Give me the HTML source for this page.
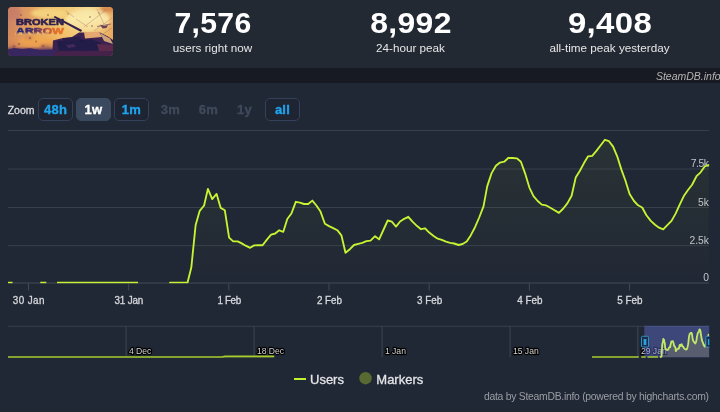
<!DOCTYPE html>
<html lang="en">
<head>
<meta charset="utf-8">
<title>Broken Arrow - SteamDB</title>
<style>
html,body{margin:0;padding:0;}
body{width:720px;height:412px;overflow:hidden;background:#212835;font-family:"Liberation Sans",sans-serif;position:relative;}
#hdr{position:absolute;left:0;top:0;width:720px;height:68px;background:#222933;}
#thumb{position:absolute;left:8px;top:7px;width:105px;height:49px;border-radius:4px;overflow:hidden;}
.stat{position:absolute;top:0;width:198px;text-align:center;color:#fff;}
.stat b{display:block;position:absolute;left:0;width:100%;top:6px;font-size:29px;line-height:34px;font-weight:700;letter-spacing:0.3px;}
.stat span{display:block;position:absolute;left:0;width:100%;top:40.3px;font-size:11.7px;line-height:16px;color:#e6e6e6;}
#band{position:absolute;left:0;top:68px;width:720px;height:15px;background:#171a22;}
#band i{position:absolute;right:-0.7px;top:0.5px;font-size:10.5px;line-height:15px;color:#b4b4b4;font-style:italic;white-space:nowrap;}
#zoom{position:absolute;left:0;top:98px;height:22px;}
#zoom span,#zoom a{position:absolute;top:0;height:20.5px;line-height:22px;font-size:13px;font-weight:700;text-align:center;box-sizing:content-box;}
#zoom .lbl{left:7.7px;font-size:10.5px;font-weight:400;color:#dcdde0;line-height:24px;-webkit-text-stroke:0.3px #dcdde0;}
#zoom a{width:33px;border:1px solid #33415a;border-radius:5px;color:#1fa4ee;background:#1e2431;-webkit-text-stroke:0.35px currentColor;letter-spacing:0.25px;}
#zoom a.sel{background:#3b495f;border-color:#3b495f;color:#fff;}
#zoom a.dis{border-color:transparent;background:transparent;color:#3f4a5b;}
#chart{position:absolute;left:0;top:0;width:720px;height:412px;}
#chart text{font-family:"Liberation Sans",sans-serif;}
</style>
</head>
<body>
<div id="hdr">
  <div id="thumb">
    <svg width="105" height="49" viewBox="0 0 105 49">
      <defs>
        <linearGradient id="sky" x1="0" y1="0" x2="1" y2="0">
          <stop offset="0" stop-color="#cc8268"/>
          <stop offset="0.22" stop-color="#e3a262"/>
          <stop offset="0.5" stop-color="#f3cb74"/>
          <stop offset="0.78" stop-color="#f8e39a"/>
          <stop offset="1" stop-color="#e8ae66"/>
        </linearGradient>
        <linearGradient id="gnd" x1="0" y1="0" x2="0" y2="1">
          <stop offset="0" stop-color="#d08040" stop-opacity="0.1"/>
          <stop offset="0.25" stop-color="#e09040" stop-opacity="0"/>
          <stop offset="0.62" stop-color="#ee9a40" stop-opacity="0.3"/>
          <stop offset="0.8" stop-color="#e08a44" stop-opacity="0.45"/>
          <stop offset="0.86" stop-color="#6a3860" stop-opacity="0.85"/>
          <stop offset="0.92" stop-color="#3a2660" stop-opacity="1"/>
          <stop offset="1" stop-color="#2e2150"/>
        </linearGradient>
        <linearGradient id="arw" x1="0" y1="0" x2="1" y2="0">
          <stop offset="0" stop-color="#1e2878"/>
          <stop offset="0.3" stop-color="#3a2a6a"/>
          <stop offset="0.55" stop-color="#8a4058"/>
          <stop offset="0.75" stop-color="#dc6a2c"/>
          <stop offset="1" stop-color="#e8782a"/>
        </linearGradient>
        <filter id="bl" x="-30%" y="-30%" width="160%" height="160%"><feGaussianBlur stdDeviation="1.6"/></filter>
        <filter id="bl2" x="-20%" y="-20%" width="140%" height="140%"><feGaussianBlur stdDeviation="0.6"/></filter>
      </defs>
      <rect width="105" height="49" fill="url(#sky)"/>
      <g transform="translate(-8,-7)">
      <g filter="url(#bl)">
        <ellipse cx="88" cy="20" rx="22" ry="11" fill="#fbeeb0" opacity="0.8"/>
        <ellipse cx="48" cy="13" rx="17" ry="5" fill="#f8da84" opacity="0.85"/>
        <ellipse cx="13" cy="13" rx="8" ry="7" fill="#c47a6a" opacity="0.7"/>
        <ellipse cx="108" cy="9" rx="8" ry="3.5" fill="#d8884c" opacity="0.9"/>
        <ellipse cx="38" cy="42" rx="20" ry="5" fill="#f4ae54" opacity="0.8"/>
        <ellipse cx="13" cy="47" rx="5" ry="2" fill="#8a4a60" opacity="0.6"/>
        <ellipse cx="46" cy="47" rx="7" ry="2.5" fill="#7a4468" opacity="0.75"/>
        <ellipse cx="23" cy="21" rx="5" ry="2" fill="#b87060" opacity="0.5"/>
        <ellipse cx="29" cy="38" rx="4" ry="1.6" fill="#a86058" opacity="0.55"/>
        <ellipse cx="12" cy="32" rx="3" ry="5" fill="#d08a58" opacity="0.5"/>
      </g>
      <rect x="8" y="7" width="105" height="49" fill="url(#gnd)"/>
      <g stroke="#9a6250" stroke-width="0.55" opacity="0.6" fill="none">
        <path d="M106 10 L84 27 M112 18 L94 31 M97 9 L104 24 M66 11 L74 17 M112 28 L100 36 M76 19 L88 27"/>
      </g>
      <g fill="#8a5248" opacity="0.6" filter="url(#bl2)">
        <circle cx="21" cy="15" r="1.1"/><circle cx="25" cy="21.5" r="0.9"/><circle cx="48" cy="15" r="1"/>
        <circle cx="30" cy="38" r="1.2"/><circle cx="36" cy="41.5" r="1"/><circle cx="19" cy="44" r="1.2"/>
        <circle cx="68" cy="14" r="0.8"/><circle cx="90" cy="17" r="0.9"/><circle cx="99" cy="13" r="0.8"/>
        <circle cx="43" cy="46" r="1.6"/><circle cx="14" cy="46.5" r="1.5"/><circle cx="92" cy="26" r="0.9"/>
      </g>
      <g filter="url(#bl2)">
        <path d="M100 24.5 L104 26 L108 25 L106.5 28 L102.5 28.5 Z" fill="#6a4258"/>
        <path d="M97 26.5 L111 24" stroke="#6a4258" stroke-width="0.7"/>
        <path d="M53.5 17.3 L55 16 L82 30 L81 32 Z" fill="#33204c"/>
        <path d="M53 40.5 L61 38.5 L72 37 L79 32.5 L100 32.5 L108 36.5 L113 40 L113 56 L52 56 Z" fill="#3a2250"/>
        <path d="M84 32 L99 31.8 L102 37 L85 38.5 Z" fill="#e4a870"/>
        <path d="M100 33 L110 38.5 L113 44 L104 41 Z" fill="#deb07c" opacity="0.9"/>
        <path d="M57 41 L92 39.5 L101 43 L99 50.5 L59 50.5 Z" fill="#211a48"/>
        <path d="M62 38 L80 37 L83 40 L64 41 Z" fill="#2a1e4a"/>
        <path d="M8 49.5 L14 48 L22 49 L30 48.3 L40 50 L56 49.5 L56 56 L8 56 Z" fill="#38265e"/>
        <path d="M54 52 L113 50.5 L113 56 L54 56 Z" fill="#45204a"/>
        <path d="M97 44 L113 45 L113 51 L99 51 Z" fill="#5c2c4e"/>
        <path d="M66 45 L74 44 L76 47 L68 48 Z" fill="#4a3060" opacity="0.8"/>
      </g>
      <g font-family="Liberation Sans, sans-serif" font-weight="700" font-size="8.7" stroke-width="0.55" stroke-linejoin="round">
        <text x="16" y="25.4" fill="#2c2050" stroke="#2c2050" textLength="48" lengthAdjust="spacingAndGlyphs">BROKEN</text>
        <text x="16" y="34" fill="url(#arw)" stroke="url(#arw)" textLength="48" lengthAdjust="spacingAndGlyphs">ARROW</text>
      </g>
      <rect x="15" y="32.6" width="34" height="2.2" fill="#f0b86a" opacity="0.6" filter="url(#bl2)"/>
      </g>
    </svg>
  </div>
  <div class="stat" style="left:113.5px"><b style="transform:scaleX(1.04)">7,576</b><span>users right now</span></div>
  <div class="stat" style="left:311.5px"><b style="transform:scaleX(1.10)">8,992</b><span>24-hour peak</span></div>
  <div class="stat" style="left:510.5px"><b style="transform:scaleX(1.135)">9,408</b><span>all-time peak yesterday</span></div>
</div>
<div id="band"><i>SteamDB.info</i></div>

<svg id="chart" width="720" height="412" viewBox="0 0 720 412">
  <defs>
    <linearGradient id="fillg" x1="0" y1="130" x2="0" y2="283" gradientUnits="userSpaceOnUse">
      <stop offset="0" stop-color="#b5e02a" stop-opacity="0.06"/>
      <stop offset="1" stop-color="#b5e02a" stop-opacity="0"/>
    </linearGradient>
    <clipPath id="plotclip"><rect x="8" y="120" width="701.5" height="163.15"/></clipPath>
    <clipPath id="navclip"><rect x="8" y="325" width="701.3" height="32.8"/></clipPath>
  </defs>
  <!-- grid lines -->
  <g stroke="#383f4c" stroke-width="1">
    <line x1="8" x2="709" y1="130.5" y2="130.5"/>
    <line x1="8" x2="709" y1="169" y2="169"/>
    <line x1="8" x2="709" y1="207.5" y2="207.5"/>
    <line x1="8" x2="709" y1="245.6" y2="245.6"/>
    <line x1="8" x2="709" y1="283" y2="283" stroke-width="1.4"/>
  </g>
  <!-- ticks -->
  <g stroke="#404755" stroke-width="1">
    <line x1="28.50" x2="28.50" y1="283" y2="290.5"/>
    <line x1="128.67" x2="128.67" y1="283" y2="290.5"/>
    <line x1="228.84" x2="228.84" y1="283" y2="290.5"/>
    <line x1="329.01" x2="329.01" y1="283" y2="290.5"/>
    <line x1="429.18" x2="429.18" y1="283" y2="290.5"/>
    <line x1="529.35" x2="529.35" y1="283" y2="290.5"/>
    <line x1="629.52" x2="629.52" y1="283" y2="290.5"/>
  </g>
  <!-- y labels -->
  <g font-size="10.3" fill="#c2c5cb" text-anchor="end">
    <text x="709" y="167.4" textLength="18.3" lengthAdjust="spacing">7.5k</text>
    <text x="709" y="205.9">5k</text>
    <text x="709" y="244.1">2.5k</text>
    <text x="709" y="281.4">0</text>
  </g>
  <!-- series -->
  <g clip-path="url(#plotclip)">
  <path d="M170.0 282.7 L187.5 282.7 L191.3 267.6 L195.6 225.3 L199.7 210.8 L204.1 205.5 L207.9 188.9 L212.2 199.1 L216.6 193.9 L220.7 207.9 L224.8 210.2 L229.1 237.6 L233.2 241.4 L237.6 241.4 L241.7 243.4 L245.7 245.7 L250.1 247.8 L254.2 245.4 L258.3 245.2 L262.6 245.2 L266.7 239.9 L271.1 234.7 L275.2 233.5 L279.2 230.3 L283.3 231.8 L287.3 219.0 L291.4 213.5 L295.8 201.8 L299.9 202.6 L304.0 204.0 L308.2 204.0 L312.3 200.6 L316.4 205.5 L320.5 211.6 L324.9 223.7 L329.0 226.1 L333.2 228.1 L337.3 230.2 L341.4 235.3 L345.5 252.8 L349.9 249.2 L354.0 245.0 L358.2 243.8 L362.3 242.9 L366.4 241.2 L370.5 240.7 L375.1 236.2 L379.1 239.4 L383.6 229.5 L387.7 220.5 L391.8 221.7 L396.0 226.6 L400.1 221.5 L404.2 218.8 L408.3 216.8 L412.5 221.7 L416.8 225.8 L421.0 229.2 L425.1 228.3 L429.2 232.6 L433.6 236.0 L437.7 238.7 L441.8 239.9 L446.0 241.6 L450.1 242.8 L454.2 243.5 L458.6 245.0 L462.6 244.0 L466.7 241.5 L470.7 235.4 L475.0 227.2 L479.2 217.5 L483.5 206.3 L487.2 186.4 L491.6 173.1 L495.9 165.8 L500.0 162.6 L504.2 161.7 L508.5 157.8 L512.7 158.0 L516.8 158.3 L520.9 161.7 L525.0 173.1 L529.4 187.6 L533.5 196.1 L537.7 201.0 L541.8 204.6 L545.9 205.3 L550.3 207.8 L554.6 210.2 L558.9 212.9 L563.3 208.5 L567.5 203.1 L571.6 195.8 L575.7 177.6 L579.9 170.8 L584.0 163.1 L588.1 156.3 L592.2 155.8 L596.4 150.9 L600.7 145.3 L604.9 139.8 L609.0 141.2 L613.1 146.6 L617.2 156.3 L621.4 169.6 L625.4 180.5 L629.6 194.0 L634.0 201.0 L638.1 205.3 L642.2 207.5 L646.4 215.3 L650.8 220.9 L655.0 224.8 L659.1 227.7 L663.2 229.4 L667.3 225.2 L671.5 220.9 L675.6 213.6 L679.7 204.6 L683.8 196.1 L688.0 190.0 L692.1 184.7 L696.5 176.2 L700.6 172.3 L704.7 166.5 L708.6 165.0 L708.6 282.7 L170.0 282.7 Z" fill="url(#fillg)" stroke="none"/>
  <g fill="none" stroke="#c5f432" stroke-width="1.85" stroke-linejoin="round" stroke-linecap="butt">
    <path d="M8 282.7 L12.5 282.7"/>
    <path d="M40.3 282.7 L46.3 282.7"/>
    <path d="M57 282.7 L138 282.7"/>
    <path d="M170.0 282.7 L187.5 282.7 L191.3 267.6 L195.6 225.3 L199.7 210.8 L204.1 205.5 L207.9 188.9 L212.2 199.1 L216.6 193.9 L220.7 207.9 L224.8 210.2 L229.1 237.6 L233.2 241.4 L237.6 241.4 L241.7 243.4 L245.7 245.7 L250.1 247.8 L254.2 245.4 L258.3 245.2 L262.6 245.2 L266.7 239.9 L271.1 234.7 L275.2 233.5 L279.2 230.3 L283.3 231.8 L287.3 219.0 L291.4 213.5 L295.8 201.8 L299.9 202.6 L304.0 204.0 L308.2 204.0 L312.3 200.6 L316.4 205.5 L320.5 211.6 L324.9 223.7 L329.0 226.1 L333.2 228.1 L337.3 230.2 L341.4 235.3 L345.5 252.8 L349.9 249.2 L354.0 245.0 L358.2 243.8 L362.3 242.9 L366.4 241.2 L370.5 240.7 L375.1 236.2 L379.1 239.4 L383.6 229.5 L387.7 220.5 L391.8 221.7 L396.0 226.6 L400.1 221.5 L404.2 218.8 L408.3 216.8 L412.5 221.7 L416.8 225.8 L421.0 229.2 L425.1 228.3 L429.2 232.6 L433.6 236.0 L437.7 238.7 L441.8 239.9 L446.0 241.6 L450.1 242.8 L454.2 243.5 L458.6 245.0 L462.6 244.0 L466.7 241.5 L470.7 235.4 L475.0 227.2 L479.2 217.5 L483.5 206.3 L487.2 186.4 L491.6 173.1 L495.9 165.8 L500.0 162.6 L504.2 161.7 L508.5 157.8 L512.7 158.0 L516.8 158.3 L520.9 161.7 L525.0 173.1 L529.4 187.6 L533.5 196.1 L537.7 201.0 L541.8 204.6 L545.9 205.3 L550.3 207.8 L554.6 210.2 L558.9 212.9 L563.3 208.5 L567.5 203.1 L571.6 195.8 L575.7 177.6 L579.9 170.8 L584.0 163.1 L588.1 156.3 L592.2 155.8 L596.4 150.9 L600.7 145.3 L604.9 139.8 L609.0 141.2 L613.1 146.6 L617.2 156.3 L621.4 169.6 L625.4 180.5 L629.6 194.0 L634.0 201.0 L638.1 205.3 L642.2 207.5 L646.4 215.3 L650.8 220.9 L655.0 224.8 L659.1 227.7 L663.2 229.4 L667.3 225.2 L671.5 220.9 L675.6 213.6 L679.7 204.6 L683.8 196.1 L688.0 190.0 L692.1 184.7 L696.5 176.2 L700.6 172.3 L704.7 166.5 L708.6 165.0" stroke-linecap="round"/>
  </g>
  </g>
  <!-- x labels -->
  <g font-size="9.9" fill="#d6d8dc" stroke="#d6d8dc" stroke-width="0.3" text-anchor="middle" transform="scale(1,1.03)">
    <text x="28.6" y="294.71" textLength="31.6" lengthAdjust="spacing">30 Jan</text>
    <text x="128.9" y="294.71" textLength="28.7" lengthAdjust="spacing">31 Jan</text>
    <text x="229.3" y="294.71" textLength="23.7" lengthAdjust="spacing">1 Feb</text>
    <text x="329.5" y="294.71" textLength="25.2" lengthAdjust="spacing">2 Feb</text>
    <text x="429.7" y="294.71" textLength="25.2" lengthAdjust="spacing">3 Feb</text>
    <text x="529.9" y="294.71" textLength="25.2" lengthAdjust="spacing">4 Feb</text>
    <text x="629.9" y="294.71" textLength="25.2" lengthAdjust="spacing">5 Feb</text>
  </g>
  <!-- navigator -->
  <g stroke="#383f4c" stroke-width="1">
    <line x1="8" x2="709" y1="326.3" y2="326.3"/>
    <line x1="126.1" x2="126.1" y1="326" y2="357" stroke-width="1.3"/>
    <line x1="254.1" x2="254.1" y1="326" y2="357" stroke-width="1.3"/>
    <line x1="382.1" x2="382.1" y1="326" y2="357" stroke-width="1.3"/>
    <line x1="510.1" x2="510.1" y1="326" y2="357" stroke-width="1.3"/>
    <line x1="637.8" x2="637.8" y1="326" y2="357" stroke-width="1.4"/>
  </g>
  <g clip-path="url(#navclip)">
    <path d="M659.8 357.0 L661.4 357.0 L661.7 354.1 L662.1 345.9 L662.5 343.1 L662.9 342.0 L663.3 338.8 L663.7 340.8 L664.1 339.8 L664.4 342.5 L664.8 342.9 L665.2 348.3 L665.6 349.0 L666.0 349.0 L666.4 349.4 L666.7 349.8 L667.1 350.2 L667.5 349.8 L667.9 349.7 L668.3 349.7 L668.6 348.7 L669.0 347.7 L669.4 347.5 L669.8 346.8 L670.2 347.1 L670.5 344.6 L670.9 343.6 L671.3 341.3 L671.7 341.5 L672.0 341.7 L672.4 341.7 L672.8 341.1 L673.2 342.0 L673.6 343.2 L674.0 345.6 L674.3 346.0 L674.7 346.4 L675.1 346.8 L675.5 347.8 L675.8 351.2 L676.2 350.5 L676.6 349.7 L677.0 349.5 L677.4 349.3 L677.7 348.9 L678.1 348.9 L678.5 348.0 L678.9 348.6 L679.3 346.7 L679.7 344.9 L680.1 345.2 L680.4 346.1 L680.8 345.1 L681.2 344.6 L681.6 344.2 L682.0 345.2 L682.3 346.0 L682.7 346.6 L683.1 346.4 L683.5 347.3 L683.9 347.9 L684.3 348.5 L684.6 348.7 L685.0 349.0 L685.4 349.3 L685.8 349.4 L686.2 349.7 L686.5 349.5 L686.9 349.0 L687.3 347.8 L687.7 346.2 L688.1 344.4 L688.4 342.2 L688.8 338.3 L689.2 335.7 L689.6 334.3 L690.0 333.7 L690.3 333.5 L690.7 332.8 L691.1 332.8 L691.5 332.9 L691.9 333.5 L692.2 335.7 L692.6 338.6 L693.0 340.2 L693.4 341.2 L693.8 341.8 L694.1 342.0 L694.5 342.5 L694.9 342.9 L695.3 343.5 L695.7 342.6 L696.1 341.6 L696.5 340.1 L696.9 336.6 L697.3 335.3 L697.6 333.8 L698.0 332.5 L698.4 332.4 L698.8 331.4 L699.2 330.3 L699.5 329.3 L699.9 329.5 L700.3 330.6 L700.7 332.5 L701.0 335.1 L701.4 337.2 L701.8 339.8 L702.2 341.2 L702.6 342.0 L702.9 342.4 L703.3 343.9 L703.7 345.0 L704.1 345.8 L704.5 346.3 L704.9 346.7 L705.2 345.8 L705.6 345.0 L706.0 343.6 L706.4 341.8 L706.7 340.2 L707.1 339.0 L707.5 338.0 L707.9 336.3 L708.3 335.6 L708.7 334.5 L709.0 334.2 L709.0 357 L659.8 357 Z" fill="#4e5025"/>
  </g>
  <g font-size="8.6" font-weight="400" fill="#d0d0d0" stroke="#000" stroke-width="2.4" stroke-linejoin="round" paint-order="stroke">
    <text x="128.9" y="354.1">4 Dec</text>
    <text x="256.9" y="354.1">18 Dec</text>
    <text x="384.9" y="354.1">1 Jan</text>
    <text x="512.9" y="354.1">15 Jan</text>
    <text x="640.9" y="354.1">29 Jan</text>
  </g>
  <rect x="644.3" y="325.8" width="64.9" height="31.6" fill="#6673d8" fill-opacity="0.42"/>
  <g clip-path="url(#navclip)">
    <g fill="none" stroke="#a6cc2e" stroke-width="1.8" stroke-linejoin="round">
      <path d="M8 357.1 L222 357.1 L225 356.5 L273.5 356.5" stroke-linecap="round"/>
      <path d="M592 357.1 L638.8 357.1 M641.2 357.1 L645.6 357.1 M647.5 357.1 L658 357.1"/>
      <path d="M659.8 357.0 L661.4 357.0 L661.7 354.1 L662.1 345.9 L662.5 343.1 L662.9 342.0 L663.3 338.8 L663.7 340.8 L664.1 339.8 L664.4 342.5 L664.8 342.9 L665.2 348.3 L665.6 349.0 L666.0 349.0 L666.4 349.4 L666.7 349.8 L667.1 350.2 L667.5 349.8 L667.9 349.7 L668.3 349.7 L668.6 348.7 L669.0 347.7 L669.4 347.5 L669.8 346.8 L670.2 347.1 L670.5 344.6 L670.9 343.6 L671.3 341.3 L671.7 341.5 L672.0 341.7 L672.4 341.7 L672.8 341.1 L673.2 342.0 L673.6 343.2 L674.0 345.6 L674.3 346.0 L674.7 346.4 L675.1 346.8 L675.5 347.8 L675.8 351.2 L676.2 350.5 L676.6 349.7 L677.0 349.5 L677.4 349.3 L677.7 348.9 L678.1 348.9 L678.5 348.0 L678.9 348.6 L679.3 346.7 L679.7 344.9 L680.1 345.2 L680.4 346.1 L680.8 345.1 L681.2 344.6 L681.6 344.2 L682.0 345.2 L682.3 346.0 L682.7 346.6 L683.1 346.4 L683.5 347.3 L683.9 347.9 L684.3 348.5 L684.6 348.7 L685.0 349.0 L685.4 349.3 L685.8 349.4 L686.2 349.7 L686.5 349.5 L686.9 349.0 L687.3 347.8 L687.7 346.2 L688.1 344.4 L688.4 342.2 L688.8 338.3 L689.2 335.7 L689.6 334.3 L690.0 333.7 L690.3 333.5 L690.7 332.8 L691.1 332.8 L691.5 332.9 L691.9 333.5 L692.2 335.7 L692.6 338.6 L693.0 340.2 L693.4 341.2 L693.8 341.8 L694.1 342.0 L694.5 342.5 L694.9 342.9 L695.3 343.5 L695.7 342.6 L696.1 341.6 L696.5 340.1 L696.9 336.6 L697.3 335.3 L697.6 333.8 L698.0 332.5 L698.4 332.4 L698.8 331.4 L699.2 330.3 L699.5 329.3 L699.9 329.5 L700.3 330.6 L700.7 332.5 L701.0 335.1 L701.4 337.2 L701.8 339.8 L702.2 341.2 L702.6 342.0 L702.9 342.4 L703.3 343.9 L703.7 345.0 L704.1 345.8 L704.5 346.3 L704.9 346.7 L705.2 345.8 L705.6 345.0 L706.0 343.6 L706.4 341.8 L706.7 340.2 L707.1 339.0 L707.5 338.0 L707.9 336.3 L708.3 335.6 L708.7 334.5 L709.0 334.2" stroke="#c2e868" stroke-width="1.8"/>
    </g>
  </g>
  <!-- handles -->
  <g clip-path="url(#navclip)">
  <g fill="#1c2d4a" stroke="#2e8fc4" stroke-width="1">
    <rect x="641.5" y="336.3" width="7" height="10.7" rx="1"/>
    <rect x="705.8" y="336.3" width="7" height="10.7" rx="1"/>
  </g>
  <g fill="#2aa0dc">
    <rect x="643.6" y="339" width="2.8" height="6"/>
    <rect x="707.9" y="339" width="2.8" height="6"/>
  </g>
  </g>
  <!-- legend -->
  <line x1="294" x2="306" y1="379" y2="379" stroke="#c3f22e" stroke-width="2"/>
  <text x="310" y="383.7" font-size="13" fill="#e4e5e8" stroke="#e4e5e8" stroke-width="0.3">Users</text>
  <circle cx="365.5" cy="378.2" r="6.2" fill="#586a32"/>
  <text x="376.3" y="383.7" font-size="13" fill="#e4e5e8" stroke="#e4e5e8" stroke-width="0.3">Markers</text>
  <!-- credits -->
  <text x="709" y="400.2" font-size="10.4" fill="#9a9da3" text-anchor="end" textLength="225" lengthAdjust="spacing">data by SteamDB.info (powered by highcharts.com)</text>
</svg>

<div id="zoom">
  <span class="lbl">Zoom</span>
  <a style="left:38px">48h</a>
  <a class="sel" style="left:76px">1w</a>
  <a style="left:114px">1m</a>
  <a class="dis" style="left:153px">3m</a>
  <a class="dis" style="left:191px">6m</a>
  <a class="dis" style="left:227px">1y</a>
  <a style="left:265px">all</a>
</div>
</body>
</html>
